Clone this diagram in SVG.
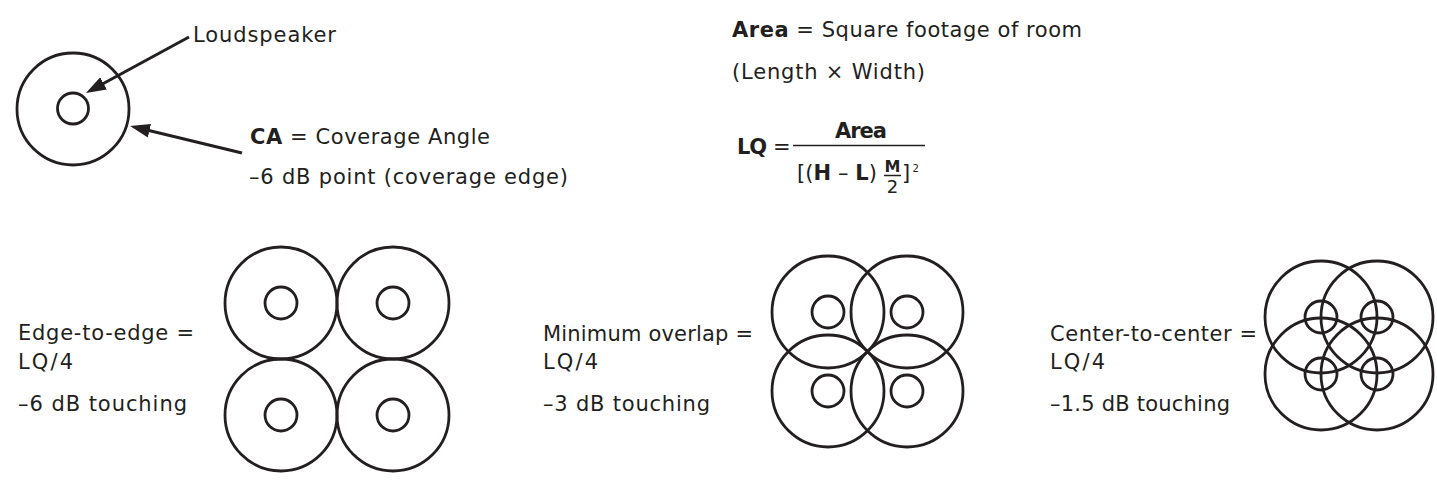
<svg xmlns="http://www.w3.org/2000/svg" width="1437" height="486" viewBox="0 0 1437 486">
<style>
.t{font-family:"DejaVu Sans","Liberation Sans",sans-serif;font-size:21px;fill:#231f20}
.b{font-weight:bold}
.c{fill:none;stroke:#231f20;stroke-width:2.8}
.ln{stroke:#231f20;stroke-width:3;fill:none}
.rule{stroke:#231f20;stroke-width:1.5}
</style>
<defs>
<marker id="ah" markerUnits="userSpaceOnUse" markerWidth="22" markerHeight="16" viewBox="0 0 22 16" refX="8" refY="8" orient="auto">
<path d="M0,1 L20,8 L0,15 z" fill="#231f20"/>
</marker>
</defs>
<rect width="1437" height="486" fill="#ffffff"/>

<g id="speaker">
<circle class="c" cx="73" cy="109" r="56"/>
<circle class="c" cx="73" cy="108.5" r="15.5"/>
</g>

<g id="connectors">
<line class="ln" x1="189" y1="37" x2="96.5" y2="87.2" marker-end="url(#ah)"/>
<line class="ln" x1="242" y1="153" x2="141.7" y2="128.8" marker-end="url(#ah)"/>
</g>

<g id="labels-top-left">
<text class="t" x="193" y="42" textLength="143">Loudspeaker</text>
<text class="t" x="250" y="144" textLength="240"><tspan class="b">CA</tspan> = Coverage Angle</text>
<text class="t" x="249" y="184" textLength="319">–6 dB point (coverage edge)</text>
</g>

<g id="formula">
<text class="t" x="732" y="37" textLength="350"><tspan class="b">Area</tspan> = Square footage of room</text>
<text class="t" x="732" y="79" textLength="193">(Length × Width)</text>
<text class="t b" x="737" y="154" textLength="30">LQ</text>
<text class="t" x="773" y="154" textLength="14">=</text>
<line class="rule" x1="793" y1="145.5" x2="925" y2="145.5"/>
<text class="t b" x="861" y="137.5" text-anchor="middle" textLength="52">Area</text>
<text class="t" x="797" y="180" textLength="80">[(<tspan class="b">H</tspan> – <tspan class="b">L</tspan>)</text>
<text class="t b" x="892.5" y="172" text-anchor="middle" style="font-size:16px">M</text>
<line class="rule" x1="884" y1="175.5" x2="901" y2="175.5"/>
<text class="t" x="892.5" y="193" text-anchor="middle" style="font-size:18px">2</text>
<text class="t" x="902" y="180">]</text>
<text class="t" x="912.5" y="172" style="font-size:10px">2</text>
</g>

<g id="edge-to-edge">
<text class="t" x="18" y="340" textLength="176">Edge-to-edge =</text>
<text class="t" x="18" y="369" textLength="55">LQ/4</text>
<text class="t" x="18" y="411" textLength="169">–6 dB touching</text>
<circle class="c" cx="281" cy="303" r="56"/>
<circle class="c" cx="393" cy="303" r="56"/>
<circle class="c" cx="281" cy="415" r="56"/>
<circle class="c" cx="393" cy="415" r="56"/>
<circle class="c" cx="281" cy="303" r="16"/>
<circle class="c" cx="393" cy="303" r="16"/>
<circle class="c" cx="281" cy="415" r="16"/>
<circle class="c" cx="393" cy="415" r="16"/>
</g>

<g id="minimum-overlap">
<text class="t" x="543" y="341" textLength="210">Minimum overlap =</text>
<text class="t" x="543" y="369" textLength="55">LQ/4</text>
<text class="t" x="543" y="411" textLength="167">–3 dB touching</text>
<circle class="c" cx="828" cy="312" r="56"/>
<circle class="c" cx="907" cy="312" r="56"/>
<circle class="c" cx="828" cy="391" r="56"/>
<circle class="c" cx="907" cy="391" r="56"/>
<circle class="c" cx="828" cy="312" r="16"/>
<circle class="c" cx="907" cy="312" r="16"/>
<circle class="c" cx="828" cy="391" r="16"/>
<circle class="c" cx="907" cy="391" r="16"/>
</g>

<g id="center-to-center">
<text class="t" x="1050" y="341" textLength="207">Center-to-center =</text>
<text class="t" x="1050" y="369" textLength="55">LQ/4</text>
<text class="t" x="1050" y="411" textLength="180">–1.5 dB touching</text>
<circle class="c" cx="1321" cy="317" r="56"/>
<circle class="c" cx="1377" cy="317" r="56"/>
<circle class="c" cx="1321" cy="374" r="56"/>
<circle class="c" cx="1377" cy="374" r="56"/>
<circle class="c" cx="1321" cy="317" r="16"/>
<circle class="c" cx="1377" cy="317" r="16"/>
<circle class="c" cx="1321" cy="374" r="16"/>
<circle class="c" cx="1377" cy="374" r="16"/>
</g>
</svg>
